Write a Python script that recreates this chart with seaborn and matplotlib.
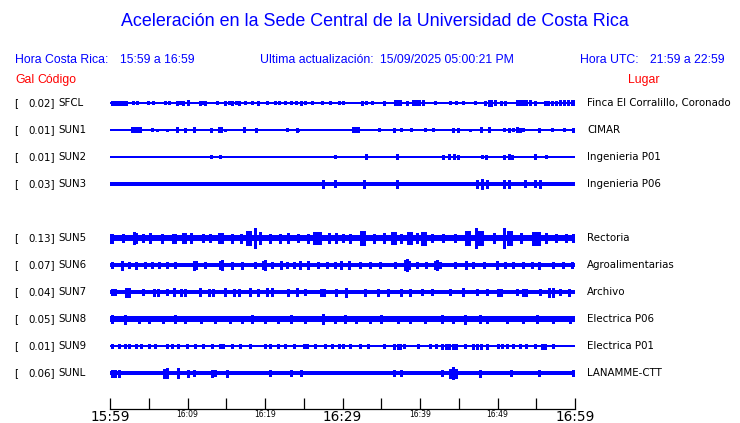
import matplotlib
matplotlib.use("Agg")

import matplotlib.pyplot as plt
import seaborn as sns
import pandas as pd

W, H = 740, 423
BLUE = "#0000ff"
RED = "#ff0000"

# stations, peak acceleration (gal) and place names
stations = ["SFCL", "SUN1", "SUN2", "SUN3", "SUN5", "SUN6", "SUN7", "SUN8", "SUN9", "SUNL"]
gal = [0.02, 0.01, 0.01, 0.03, 0.13, 0.07, 0.04, 0.05, 0.01, 0.06]
places = ["Finca El Corralillo, Coronado", "CIMAR", "Ingenieria P01", "Ingenieria P06",
          "Rectoria", "Agroalimentarias", "Archivo", "Electrica P06", "Electrica P01",
          "LANAMME-CTT"]
# background noise half-width of each trace (px)
base_amp = [0.6, 0.6, 0.6, 2.2, 3.2, 2.0, 2.0, 2.8, 0.6, 2.2]

# (minute after 15:59, half-amplitude px) of visible bursts
spikes_sfcl = [(0.2, 2), (0.6, 2), (1.0, 2), (1.4, 2), (1.8, 2), (2.1, 2), (3.0, 1.5), (3.5, 1.5),
               (4.9, 1.5), (5.6, 1.5), (7.1, 1.5), (7.6, 1.5), (8.6, 2), (9.0, 1.5), (9.4, 2),
               (10.1, 2.5), (11.6, 2), (12.0, 1.5), (12.3, 2), (13.8, 1.5), (14.8, 2), (15.3, 1.5),
               (15.8, 2), (16.3, 1.5), (16.6, 2), (17.4, 1.5), (18.3, 1.5), (19.1, 2), (20.2, 1.5),
               (21.3, 1.5), (21.8, 1.5), (22.6, 1.5), (23.4, 1.5), (24.0, 1.5), (24.6, 2),
               (25.2, 1.5), (26.0, 1.5), (27.3, 1.5), (28.4, 1.5), (29.5, 1.5), (30.1, 1.5),
               (32.5, 2), (33.0, 1.5), (33.8, 1.5), (35.3, 2), (36.8, 2.5), (37.0, 2.5),
               (37.4, 2.5), (38.3, 2), (39.1, 2.5), (39.5, 2.5), (39.9, 2.5), (40.4, 2.5),
               (41.9, 1.5), (43.9, 1.5), (44.7, 1.5), (45.6, 1.5), (47.1, 1.5), (48.4, 2),
               (48.9, 3), (49.2, 3), (49.7, 2.5), (50.4, 2), (51.0, 2), (52.5, 2.5), (52.9, 2.5),
               (53.3, 2.5), (53.7, 2.5), (54.2, 2.5), (54.8, 2), (56.1, 2), (56.5, 2), (57.0, 2),
               (57.6, 2), (58.1, 2.5), (58.6, 2.5), (59.1, 2.5), (59.6, 2.5), (59.9, 2.5)]
spikes_sun1 = [(2.8, 2.5), (3.2, 2.5), (3.6, 2.5), (3.9, 2.5), (5.4, 1.5), (6.1, 1), (7.3, 1),
               (8.6, 2.5), (9.7, 2), (10.8, 2.5), (13.0, 2), (14.0, 2.5), (14.3, 2.5), (14.8, 1),
               (17.3, 2.5), (18.9, 2), (22.9, 1.5), (24.1, 2), (24.3, 1), (31.4, 2.5), (31.7, 2.5),
               (32.0, 2.5), (34.7, 1.5), (36.6, 2), (37.6, 1.5), (38.9, 1.5), (40.6, 1.5),
               (41.7, 1.5), (44.3, 2), (44.9, 2), (46.4, 1), (47.9, 2.5), (48.9, 2.5), (50.8, 1.5),
               (51.5, 2), (52.0, 1.5), (52.5, 2.5), (52.9, 2), (53.3, 1.5), (55.3, 2), (57.0, 1.5),
               (58.6, 1.5), (59.8, 2)]
spikes_sun2 = [(13.0, 1.5), (14.2, 1.5), (29.0, 1.5), (33.0, 2.5), (37.0, 2.5), (43.0, 2),
               (43.8, 2.5), (44.4, 2.5), (44.9, 2), (48.0, 1.5), (48.5, 2), (50.8, 2), (51.5, 2.5),
               (51.9, 2), (54.8, 2.5), (56.3, 1.5)]
spikes_sun3 = [(27.5, 4), (29.0, 3.5), (32.8, 4), (37.0, 4), (47.4, 4), (48.0, 5), (48.7, 4),
               (50.9, 4), (51.5, 4), (53.6, 3.5), (54.8, 3.5), (55.5, 4)]
spikes_sun5 = [(0.1, 4.5), (0.3, 4.5), (1.7, 4), (3.1, 6), (3.3, 5), (4.2, 4), (5.2, 5), (6.7, 4.5),
               (8.1, 4.5), (8.4, 4.5), (9.4, 5), (9.7, 5), (10.5, 5), (12.0, 4), (12.9, 4),
               (14.0, 5), (14.4, 5), (15.8, 4.5), (16.9, 4.5), (17.7, 7), (18.1, 7), (18.7, 10),
               (19.3, 6), (20.6, 4.5), (21.9, 4.5), (23.0, 5), (24.3, 4), (25.6, 4.5), (26.3, 6),
               (26.7, 6), (27.1, 6), (28.2, 5), (29.2, 5), (30.1, 4), (31.0, 4.5), (32.4, 7),
               (32.8, 7), (34.0, 4.5), (35.3, 5), (36.4, 6), (36.8, 6), (37.6, 4.5), (38.5, 6),
               (38.9, 6), (39.6, 5), (40.2, 6.5), (40.6, 6.5), (41.5, 4), (43.0, 4), (44.5, 4),
               (45.9, 7), (46.3, 7), (47.2, 10), (47.6, 7), (48.0, 7), (49.5, 5), (50.8, 10),
               (51.3, 7), (51.7, 7), (53.0, 5), (54.6, 6.5), (55.0, 6.5), (55.4, 6.5), (56.3, 5),
               (57.6, 4), (58.9, 4), (59.8, 4)]
spikes_sun6 = [(0.2, 3), (1.5, 4.5), (2.4, 3), (3.4, 3.5), (4.5, 3), (5.4, 3), (6.3, 3), (7.3, 3),
               (8.4, 3), (10.8, 4.5), (11.1, 4), (12.3, 3), (14.2, 4), (14.5, 5), (15.7, 3.5),
               (17.0, 3.5), (18.7, 3), (19.7, 4), (20.0, 5), (20.9, 3), (22.0, 4), (22.8, 3),
               (23.7, 3), (24.5, 4), (25.6, 4), (26.9, 3), (28.0, 3), (29.0, 3), (29.8, 4),
               (30.8, 4), (32.3, 3), (33.6, 3), (34.8, 3), (36.8, 3), (38.0, 5), (38.3, 6),
               (38.6, 4), (39.6, 3), (40.8, 3), (41.9, 4), (42.2, 5), (42.6, 3), (44.5, 3),
               (45.9, 4), (46.9, 3), (48.2, 3), (49.9, 4), (51.0, 3), (52.0, 3), (53.3, 3),
               (54.4, 3), (55.3, 3.5), (57.2, 3), (58.5, 3), (59.6, 3)]
spikes_sun7 = [(0.2, 3), (0.6, 3), (2.1, 4.5), (2.4, 4.5), (4.3, 3), (5.7, 3.5), (6.2, 3.5),
               (7.3, 3), (8.2, 4), (9.2, 3.5), (9.7, 3.5), (11.6, 4), (12.8, 3.5), (13.3, 3.5),
               (14.8, 4), (16.0, 3.5), (16.6, 3.5), (18.1, 4), (19.1, 3.5), (20.3, 4), (20.9, 4),
               (23.0, 3.5), (24.1, 4), (25.2, 3), (27.2, 3.5), (27.6, 3.5), (29.2, 3.5),
               (30.5, 4.5), (32.9, 3.5), (34.6, 3.5), (35.9, 3.5), (37.6, 3.5), (38.7, 3.5),
               (40.2, 3), (41.5, 3), (43.9, 3), (45.6, 4), (47.3, 3), (48.6, 3), (50.0, 3.5),
               (50.4, 3.5), (52.5, 3), (53.3, 3.5), (53.7, 3.5), (55.5, 3), (56.7, 4.5),
               (57.1, 4.5), (58.1, 3), (59.2, 3.5)]
spikes_sun8 = [(0.2, 4), (1.9, 4.5), (3.7, 3.5), (5.0, 3.5), (6.9, 3.5), (8.4, 4), (9.7, 3.5),
               (11.8, 3.5), (13.6, 3.5), (15.5, 3.5), (17.0, 3.5), (18.3, 4), (20.0, 3.5),
               (21.7, 3.5), (23.4, 4), (25.2, 3.5), (27.5, 5), (29.0, 3.5), (30.3, 4), (31.8, 3.5),
               (33.5, 3.5), (35.0, 4), (37.2, 3.5), (38.7, 3.5), (40.6, 3.5), (42.8, 4),
               (44.3, 3.5), (45.8, 4.5), (47.7, 4), (48.6, 3.5), (51.2, 3.5), (53.3, 3.5),
               (55.1, 4), (57.2, 3.5), (59.4, 3.5)]
spikes_sun9 = [(0.2, 2), (1.1, 2), (1.9, 2), (2.4, 2), (3.4, 2), (4.0, 2), (5.0, 2), (5.8, 2),
               (7.3, 2), (8.0, 2), (8.8, 2), (9.9, 2), (11.0, 2), (12.0, 2), (13.1, 2), (14.2, 2),
               (14.6, 2), (15.7, 2), (16.8, 2), (18.1, 2), (20.0, 2), (20.6, 2), (21.7, 2),
               (22.6, 2), (23.7, 2), (25.0, 2), (25.4, 2), (26.5, 2), (27.7, 2), (28.6, 2),
               (29.5, 2), (30.1, 2), (31.0, 2), (32.3, 2), (33.3, 2), (35.3, 2), (36.7, 2.5),
               (37.1, 2.5), (37.4, 2.5), (37.9, 2), (39.8, 2), (41.3, 2), (42.1, 2), (42.8, 2.5),
               (43.3, 2.5), (43.8, 2.5), (44.2, 2.5), (44.7, 2.5), (45.8, 2), (46.9, 2.5),
               (47.4, 2.5), (47.9, 2.5), (48.6, 2.5), (50.0, 2), (50.6, 2), (51.2, 2), (52.0, 2),
               (52.9, 2), (53.7, 2), (54.8, 2), (55.7, 2.5), (56.1, 2.5), (57.2, 2)]
spikes_sunl = [(0.2, 3.5), (0.7, 3.5), (1.1, 3.5), (7.0, 4.5), (7.3, 5), (8.8, 5), (10.1, 3.5),
               (10.8, 3), (13.1, 3.5), (13.6, 3), (15.1, 3.5), (20.6, 3), (23.4, 3), (24.7, 3),
               (36.6, 3), (37.6, 3), (42.8, 3), (43.9, 4.5), (44.3, 6), (44.7, 4.5), (47.8, 3.5),
               (51.8, 3), (55.3, 3), (59.8, 3)]
spikes = [spikes_sfcl, spikes_sun1, spikes_sun2, spikes_sun3, spikes_sun5,
          spikes_sun6, spikes_sun7, spikes_sun8, spikes_sun9, spikes_sunl]

tick_minutes = [0, 5, 10, 15, 20, 25, 30, 35, 40, 45, 50, 55, 60]
tick_labels = ["15:59", "", "16:09", "", "16:19", "", "16:29", "", "16:39", "", "16:49", "", "16:59"]
big_labels = ["15:59", "16:29", "16:59"]

# row centres in pixels from the top (layout only)
row_y = [103, 130, 157, 184, 238, 265, 292, 319, 346, 373]


def px(x, y):
    return x / W, 1 - y / H


sns.set_theme(style="white")
plt.rcParams["font.family"] = ["DejaVu Sans"]

fig = plt.figure(figsize=(W / 100, H / 100), dpi=100)
fig.patch.set_facecolor("white")

# traces
ax = fig.add_axes([110 / W, 1 - 392 / H, 465 / W, 304 / H])
ax.set_xlim(tick_minutes[0], tick_minutes[-1])
ax.set_ylim(392, 88)
ax.axis("off")

for y, b, sp in zip(row_y, base_amp, spikes):
    ax.fill_between([tick_minutes[0], tick_minutes[-1]], y - b, y + b,
                    color=BLUE, lw=0, antialiased=False)
    df = pd.DataFrame(sp, columns=["t", "amp"])
    ax.vlines(df["t"], y - df["amp"], y + df["amp"], color=BLUE, lw=1.8, antialiased=False)

# time axis
axt = fig.add_axes([110 / W, 1 - 409 / H, 465 / W, 10 / H])
axt.set_xlim(tick_minutes[0], tick_minutes[-1])
axt.set_yticks([])
for s in ["top", "left", "right"]:
    axt.spines[s].set_visible(False)
axt.spines["bottom"].set_color("black")
axt.spines["bottom"].set_linewidth(0.9)
axt.patch.set_alpha(0)
axt.set_xticks(tick_minutes)
axt.set_xticklabels(tick_labels)
axt.tick_params(axis="x", bottom=True, direction="in", length=8, width=0.9,
                color="black", pad=1, labelcolor="black")
for lab in axt.get_xticklabels():
    if lab.get_text() in big_labels:
        lab.set_fontsize(9.8)
    else:
        lab.set_fontsize(5.5)

# header texts
fig.text(*px(375, 22), "Aceleración en la Sede Central de la Universidad de Costa Rica",
         ha="center", va="center", color=BLUE, fontsize=12.9, family="Liberation Sans")
hdr = dict(va="center", color=BLUE, fontsize=8.8, family="Liberation Sans")
fig.text(*px(15, 60), "Hora Costa Rica:", ha="left", **hdr)
fig.text(*px(120, 60), "15:59 a 16:59", ha="left", **hdr)
fig.text(*px(260, 60), "Ultima actualización:", ha="left", **hdr)
fig.text(*px(380, 60), "15/09/2025 05:00:21 PM", ha="left", **hdr)
fig.text(*px(580, 60), "Hora UTC:", ha="left", **hdr)
fig.text(*px(650, 60), "21:59 a 22:59", ha="left", **hdr)
red = dict(va="center", color=RED, fontsize=8.8, family="Liberation Sans")
fig.text(*px(15, 80), "Gal", ha="left", **red)
fig.text(*px(37, 80), "Código", ha="left", **red)
fig.text(*px(628, 80), "Lugar", ha="left", **red)

# row labels
for y, st, g, pl in zip(row_y, stations, gal, places):
    fig.text(*px(14, y), "[", ha="left", va="center", fontsize=7.4, color="black")
    fig.text(*px(55, y), f"{g:.2f}]", ha="right", va="center", fontsize=7.4, color="black")
    fig.text(*px(58, y), st, ha="left", va="center", fontsize=7.4, color="black")
    fig.text(*px(587, y), pl, ha="left", va="center", fontsize=7.4, color="black")

fig.savefig("out.png", dpi=100, facecolor="white")
